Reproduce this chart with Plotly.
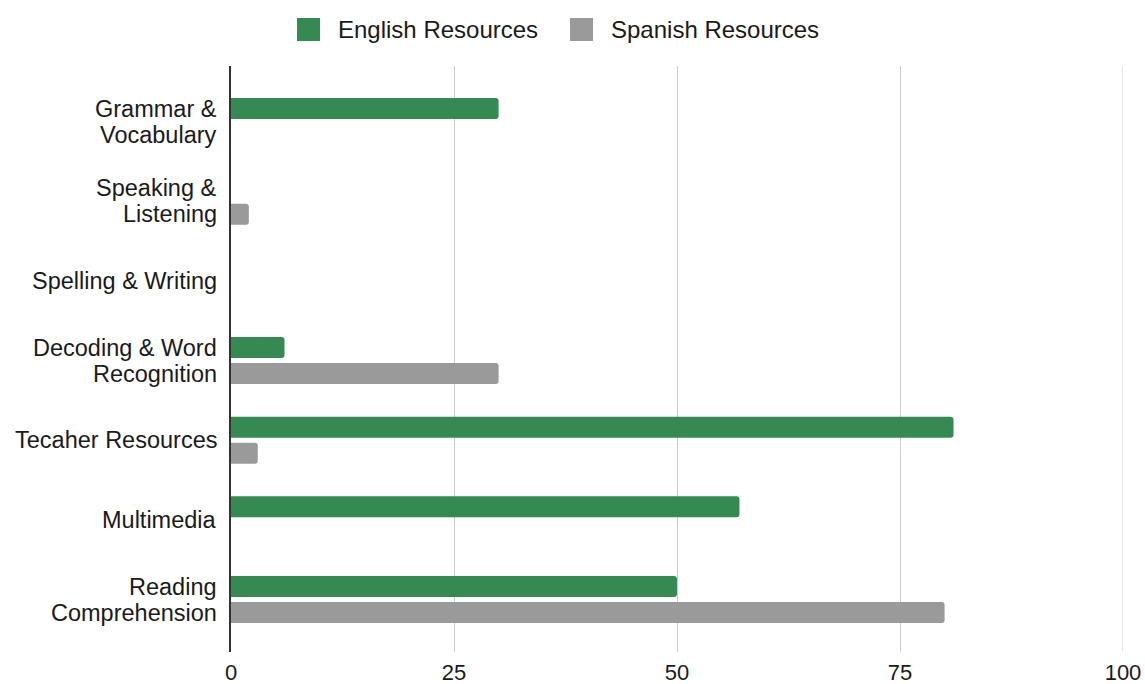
import plotly.graph_objects as go

# Resource counts by literacy area
categories = [
    "Grammar &\nVocabulary",
    "Speaking &\nListening",
    "Spelling & Writing",
    "Decoding & Word\nRecognition",
    "Tecaher Resources",
    "Multimedia",
    "Reading\nComprehension",
]
english = [30, 0, 0, 6, 81, 57, 50]
spanish = [0, 2, 0, 30, 3, 0, 80]
series_names = ["English Resources", "Spanish Resources"]
x_ticks = [0, 25, 50, 75, 100]

GREEN = "#358a51"
GREY = "#9a9a9a"
FONT = "Liberation Sans, Arial, sans-serif"
TEXT = "#1a1a1a"

W, H = 1145, 684
ML, MR, MT, MB = 231, 22, 66, 32
PW, PH = W - ML - MR, H - MT - MB

fig = go.Figure()
for name, vals, col in [(series_names[0], english, GREEN), (series_names[1], spanish, GREY)]:
    fig.add_trace(go.Bar(
        name=name, y=categories, x=vals, orientation="h",
        marker=dict(color=col, cornerradius=3, line=dict(width=0)),
        showlegend=False,
    ))

# Category labels (tight two-line layout, one text per line)
annotations = []
line_h = 26
for cat in categories:
    lines = cat.split("\n")
    n = len(lines)
    for i, ln in enumerate(lines):
        shift = ((n - 1) / 2 - i) * line_h
        annotations.append(dict(
            text=ln, x=0, xref="paper", xanchor="right", xshift=-12,
            y=cat, yref="y", yanchor="middle", yshift=shift,
            showarrow=False, font=dict(family=FONT, size=23.5, color=TEXT),
        ))


def px_x(p):
    return (p - ML) / PW


def px_y(p):
    return (H - MB - p) / PH


# Legend drawn across the top
shapes = []
legend_items = [(series_names[0], GREEN, 297, 336), (series_names[1], GREY, 570, 609)]
for name, col, sx, tx in legend_items:
    shapes.append(dict(
        type="rect", xref="paper", yref="paper",
        x0=px_x(sx), x1=px_x(sx + 23), y0=px_y(41), y1=px_y(18),
        fillcolor=col, line=dict(width=0), layer="above",
    ))
    annotations.append(dict(
        text=name, x=px_x(tx), xref="paper", xanchor="left",
        y=px_y(29), yref="paper", yanchor="middle",
        showarrow=False, font=dict(family=FONT, size=24, color=TEXT),
    ))

# Gridline at the right edge of the value axis
shapes.append(dict(
    type="line", xref="x", yref="paper", x0=x_ticks[-1], x1=x_ticks[-1], y0=0, y1=1,
    line=dict(color="#cccccc", width=1), layer="below",
))

fig.update_layout(
    width=W, height=H,
    margin=dict(l=ML, r=MR, t=MT, b=MB, pad=0),
    paper_bgcolor="white", plot_bgcolor="white",
    barmode="group", bargap=0.347, bargroupgap=0.192,
    font=dict(family=FONT, size=23, color=TEXT),
    xaxis=dict(
        range=[0, 100], tickvals=x_ticks, ticktext=[str(t) for t in x_ticks],
        showgrid=True, gridcolor="#cccccc", gridwidth=1,
        zeroline=False, showline=False, ticks="", automargin=False,
        ticklabelstandoff=5,
        tickfont=dict(family=FONT, size=22, color=TEXT),
    ),
    yaxis=dict(
        type="category", categoryorder="array", categoryarray=categories,
        range=[len(categories) - 1 + 0.659, -0.697],
        showticklabels=False, showgrid=False, zeroline=False, automargin=False,
        showline=True, linecolor="#333333", linewidth=1.5, ticks="",
    ),
    annotations=annotations,
    shapes=shapes,
)

fig.write_html("out.html")
